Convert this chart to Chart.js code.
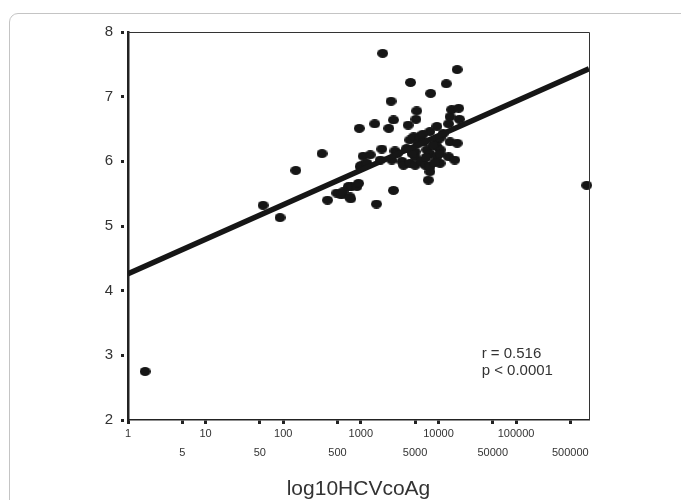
<!DOCTYPE html>
<html>
<head>
<meta charset="utf-8">
<script src="https://cdn.jsdelivr.net/npm/chart.js@4/dist/chart.umd.min.js"></script>
<style>
    body { margin: 0; background: #fff; }
    .frame {
        position: absolute; left: 9px; top: 13px; width: 700px; height: 520px;
        border: 1px solid #c4c4c4; border-radius: 9px;
    }
    #chart { position: absolute; left: 0; top: 0; }
</style>
</head>
<body>
<div class="frame"></div>
<canvas id="chart" width="681" height="500"></canvas>
<script>
// HCVcoAg (x, log scale) vs log10 HCV RNA (y)
const coAg = [
    1.66, 55, 91, 145, 316, 372, 490, 562, 590, 692,
    741, 724, 759, 891, 933, 955, 977, 1020, 1070, 1200,
    1320, 1510, 1590, 1780, 1860, 1910, 2290, 2450, 2510, 2630,
    2630, 2750, 2950, 3390, 3550, 3890, 4070, 4270, 4270, 4370,
    4790, 5010, 5010, 5010, 5130, 5250, 5500, 5750, 6030, 6460,
    6760, 7080, 7410, 7760, 7760, 7760, 7760, 7940, 9550, 9550,
    9550, 9550, 10500, 10500, 10500, 10500, 12600, 13500, 13500, 14100,
    14100, 14800, 16200, 17400, 17400, 18200, 18600, 813000,
    6310, 8510, 4570, 8910, 11500, 6920
];
const rna = [
    2.75, 5.32, 5.13, 5.86, 6.12, 5.40, 5.51, 5.48, 5.53, 5.61,
    5.42, 5.45, 5.61, 5.61, 5.66, 6.51, 5.92, 5.94, 6.08, 5.97,
    6.10, 6.58, 5.34, 6.02, 6.19, 7.67, 6.51, 6.93, 6.02, 6.64,
    5.55, 6.16, 6.12, 6.00, 5.94, 6.20, 6.56, 6.33, 5.97, 7.22,
    6.38, 6.15, 5.94, 6.07, 6.65, 6.78, 6.28, 6.38, 6.00, 6.30,
    5.94, 6.18, 5.71, 5.84, 6.46, 6.12, 5.92, 7.05, 6.54, 6.33,
    6.23, 6.07, 6.36, 6.18, 6.12, 5.97, 7.20, 6.58, 6.07, 6.69,
    6.30, 6.80, 6.02, 7.42, 6.28, 6.82, 6.65, 5.63,
    6.42, 6.25, 6.12, 5.98, 6.43, 6.06
];

// regression line end points
const fitX = [1, 870000];
const fitY = [4.26, 7.43];

const xTicks = [1, 5, 10, 50, 100, 500, 1000, 5000, 10000, 50000, 100000, 500000];
const yTicks = [2, 3, 4, 5, 6, 7, 8];
const xTitle = 'log10HCVcoAg';
const noteLines = ['r = 0.516', 'p < 0.0001'];
const notePos = { x: 36000, y: [3.03, 2.76] };

// slightly oval dot like the printed markers
function makeDot() {
    const c = document.createElement('canvas');
    c.width = 11;
    c.height = 9;
    const g = c.getContext('2d');
    g.fillStyle = '#161616';
    g.beginPath();
    g.ellipse(5.5, 4.5, 5.5, 4.5, 0, 0, Math.PI * 2);
    g.fill();
    return c;
}

const frameAndNote = {
    id: 'frameAndNote',
    afterDraw(chart) {
        const { ctx, chartArea: a, scales } = chart;
        ctx.save();
        // thin top and right border of the plot box
        ctx.strokeStyle = '#333';
        ctx.lineWidth = 1;
        ctx.beginPath();
        ctx.moveTo(a.left, a.top + 0.5);
        ctx.lineTo(a.right + 0.5, a.top + 0.5);
        ctx.lineTo(a.right + 0.5, a.bottom);
        ctx.stroke();

        ctx.fillStyle = '#333';
        ctx.font = '15px "Liberation Sans", Arial, sans-serif';
        ctx.textBaseline = 'middle';
        const nx = scales.x.getPixelForValue(notePos.x);
        noteLines.forEach((t, i) => {
            ctx.fillText(t, nx, scales.y.getPixelForValue(notePos.y[i]));
        });
        ctx.restore();
    }
};

const points = coAg.map((x, i) => ({ x: x, y: rna[i] }));
const fitLine = fitX.map((x, i) => ({ x: x, y: fitY[i] }));

new Chart(document.getElementById('chart'), {
    type: 'scatter',
    data: {
        datasets: [
            {
                data: points,
                pointStyle: makeDot(),
                pointRadius: 5,
                clip: false,
                order: 2
            },
            {
                type: 'line',
                data: fitLine,
                borderColor: '#161616',
                borderWidth: 5.5,
                pointRadius: 0,
                borderCapStyle: 'butt',
                order: 1
            }
        ]
    },
    options: {
        responsive: false,
        devicePixelRatio: 1,
        animation: false,
        layout: { padding: { left: 0, top: 32, right: 92, bottom: 0 } },
        plugins: { legend: { display: false }, tooltip: { enabled: false } },
        scales: {
            x: {
                type: 'logarithmic',
                min: 1,
                max: 870000,
                afterBuildTicks: (s) => { s.ticks = xTicks.map(v => ({ value: v })); },
                afterFit: (s) => { s.height = 80; },
                border: { display: true, color: '#222', width: 1.5 },
                grid: {
                    drawOnChartArea: false,
                    drawTicks: true,
                    tickLength: 4,
                    tickWidth: 3,
                    tickColor: '#222'
                },
                ticks: {
                    autoSkip: false,
                    maxRotation: 0,
                    padding: 0,
                    color: '#333',
                    font: { family: '"Liberation Sans", Arial, sans-serif', size: 11, lineHeight: '19px' },
                    callback: (v) => {
                        const decade = Number.isInteger(Math.log10(v));
                        return decade ? String(v) : ['', String(v)];
                    }
                },
                title: {
                    display: true,
                    text: xTitle,
                    color: '#333',
                    padding: 0,
                    font: { family: '"Liberation Sans", Arial, sans-serif', size: 21, lineHeight: 1 }
                }
            },
            y: {
                min: 2,
                max: 8,
                afterBuildTicks: (s) => { s.ticks = yTicks.map(v => ({ value: v })); },
                afterFit: (s) => { s.width = 128; },
                border: { display: true, color: '#222', width: 2.5 },
                grid: {
                    drawOnChartArea: false,
                    drawTicks: true,
                    tickLength: 7,
                    tickWidth: 3,
                    tickColor: '#222',
                    tickBorderDash: [3, 20]
                },
                ticks: {
                    padding: 8,
                    color: '#333',
                    font: { family: '"Liberation Sans", Arial, sans-serif', size: 15 }
                }
            }
        }
    },
    plugins: [frameAndNote]
});
</script>
</body>
</html>
